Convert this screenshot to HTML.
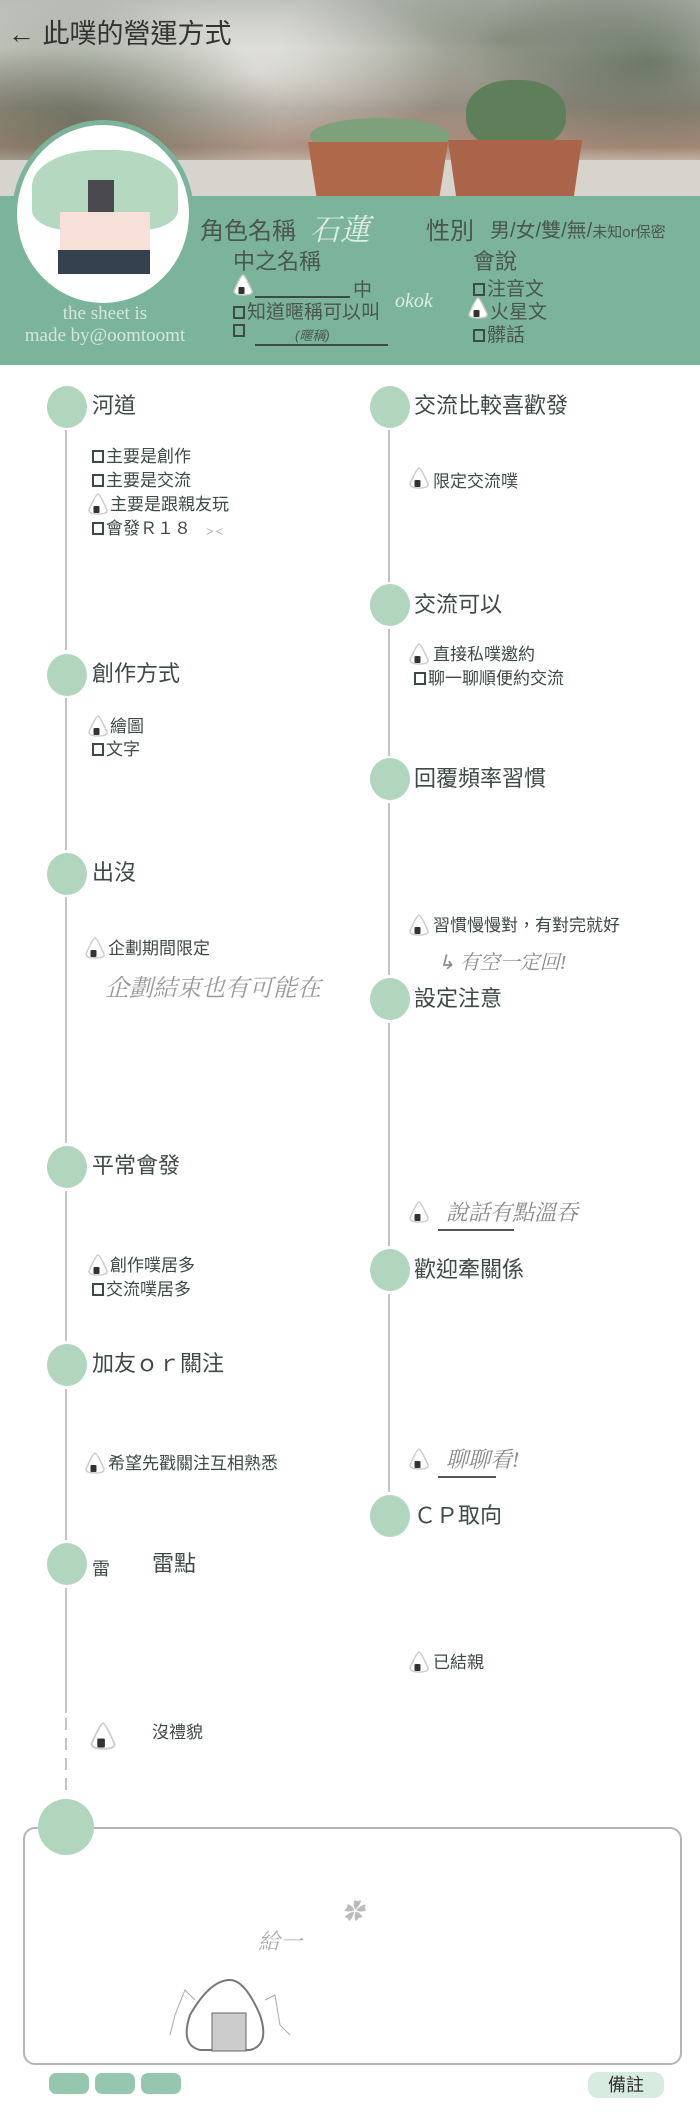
<!DOCTYPE html>
<html><head><meta charset="utf-8">
<style>
*{margin:0;padding:0;box-sizing:border-box}
body{width:700px;height:2125px;position:relative;background:#fff;overflow:hidden;font-family:"Liberation Sans","Noto Sans CJK TC",sans-serif;color:#3e4a45}
.a{position:absolute;white-space:nowrap}
.c{position:absolute;width:40px;height:42px;border-radius:50%;background:#b2d5bd}
.h{position:absolute;font-size:22px;line-height:26px;color:#3e4a45;white-space:nowrap}
.i{position:absolute;font-size:17px;line-height:22px;color:#3e4a45;white-space:nowrap}
.cb{display:inline-block;width:12px;height:13px;border:2px solid #3e4a45;margin-right:2px;vertical-align:-1px}
.vl{position:absolute;width:2px;background:#c4c4c4}
.hw{position:absolute;font-family:"Liberation Serif","Noto Serif CJK SC",serif;color:#777;font-style:italic;white-space:nowrap}
.g{position:absolute;font-size:19px;color:#4a5650;white-space:nowrap}
</style></head><body>
<svg width="0" height="0" style="position:absolute"><defs><symbol id="on" viewBox="0 0 22 24"><path d="M11 2 Q13 2 20 18 Q21 22 11 22 Q2 22 2 18 Q9 2 11 2Z" fill="#fff" stroke="#ccc" stroke-width="1.5"/><rect x="6.5" y="14" width="6" height="7" rx="1" fill="#333"/></symbol></defs></svg>

<!-- header photo -->
<div class="a" style="left:0;top:0;width:700px;height:196px;background:linear-gradient(180deg,#b8bcb6 0%,#cfd0c8 25%,#9a8f83 55%,#a88a78 75%,#d6d2cc 88%,#e0ddd8 100%)"></div>
<div class="a" style="left:0;top:0;width:700px;height:196px;background:radial-gradient(ellipse 200px 120px at 80px 120px,rgba(70,90,70,.5),transparent),radial-gradient(ellipse 180px 100px at 650px 60px,rgba(60,80,60,.6),transparent),radial-gradient(ellipse 200px 90px at 250px 70px,rgba(235,235,230,.7),transparent),radial-gradient(ellipse 220px 80px at 500px 40px,rgba(80,90,70,.5),transparent)"></div>
<div class="a" style="left:0;top:160px;width:700px;height:36px;background:#d7d3cd"></div>
<div class="a" style="left:310px;top:118px;width:140px;height:36px;border-radius:50%;background:#7ea07a"></div>
<div class="a" style="left:466px;top:80px;width:100px;height:70px;border-radius:45%;background:#5f7f5a"></div>
<div class="a" style="left:308px;top:142px;width:140px;height:54px;background:#b0684a;clip-path:polygon(0 0,100% 0,94% 100%,6% 100%)"></div>
<div class="a" style="left:448px;top:140px;width:134px;height:56px;background:#a9644a;clip-path:polygon(0 0,100% 0,94% 100%,6% 100%)"></div>
<div class="a" style="left:8px;top:12px;font-size:27px;color:#333">← 此噗的營運方式</div>

<!-- green band -->
<div class="a" style="left:0;top:196px;width:700px;height:169px;background:#7bb49a"></div>
<div class="a" style="left:12px;top:120px;width:182px;height:188px;border-radius:50%;background:#fff;border:5px solid #7bb49a"></div>
<div class="a" style="left:32px;top:150px;width:146px;height:80px;background:#b5d8c0;border-radius:45% 45% 25% 25%"></div>
<div class="a" style="left:88px;top:180px;width:26px;height:32px;background:#4a4a4e"></div>
<div class="a" style="left:60px;top:212px;width:90px;height:40px;background:#f6e0d8"></div>
<div class="a" style="left:58px;top:250px;width:92px;height:24px;background:#35414e"></div>
<div class="a" style="left:0;top:303px;width:210px;text-align:center;font-family:'Liberation Serif',serif;font-size:19px;line-height:22px;color:#d6e6dc">the sheet is<br>made by@oomtoomt</div>
<div class="g" style="left:200px;top:211px;font-size:24px">角色名稱</div>
<div class="hw" style="left:310px;top:205px;font-size:30px;color:#dfeee4">石蓮</div>
<div class="g" style="left:426px;top:211px;font-size:24px">性別</div>
<div class="g" style="left:490px;top:214px;font-size:20px">男/女/雙/無/<span style="font-size:15px">未知or保密</span></div>
<div class="g" style="left:233px;top:244px;font-size:22px">中之名稱</div>
<div class="g" style="left:473px;top:244px;font-size:22px">會說</div>
<div class="a" style="left:232px;top:273px"><svg width="22" height="24"><use href="#on"/></svg></div>
<div class="a" style="left:255px;top:296px;width:95px;border-top:2px solid #3e4a45"></div>
<div class="g" style="left:353px;top:275px">中</div>
<div class="g" style="left:233px;top:297px"><span class="cb"></span>知道暱稱可以叫</div>
<div class="hw" style="left:395px;top:290px;font-size:20px;color:#dfeee4">okok</div>
<div class="g" style="left:233px;top:320px"><span class="cb"></span></div>
<div class="a" style="left:255px;top:344px;width:133px;border-top:2px solid #3e4a45"></div>
<div class="a" style="left:295px;top:325px;font-size:13px;color:#4a5650;font-style:italic">(暱稱)</div>
<div class="g" style="left:473px;top:274px"><span class="cb"></span>注音文</div>
<div class="a" style="left:467px;top:296px"><svg width="22" height="24"><use href="#on"/></svg></div>
<div class="g" style="left:490px;top:297px">火星文</div>
<div class="g" style="left:473px;top:320px"><span class="cb"></span>髒話</div>

<!-- lines -->
<div class="vl" style="left:65px;top:430px;height:220px"></div>
<div class="vl" style="left:65px;top:698px;height:152px"></div>
<div class="vl" style="left:65px;top:897px;height:246px"></div>
<div class="vl" style="left:65px;top:1191px;height:150px"></div>
<div class="vl" style="left:65px;top:1389px;height:151px"></div>
<div class="vl" style="left:65px;top:1588px;height:125px"></div>
<div class="vl" style="left:65px;top:1718px;height:80px;background:repeating-linear-gradient(180deg,#c4c4c4 0 12px,transparent 12px 20px)"></div>
<div class="vl" style="left:388px;top:430px;height:152px"></div>
<div class="vl" style="left:388px;top:629px;height:127px"></div>
<div class="vl" style="left:388px;top:803px;height:172px"></div>
<div class="vl" style="left:388px;top:1023px;height:223px"></div>
<div class="vl" style="left:388px;top:1294px;height:198px"></div>

<!-- left column -->
<div class="c" style="left:47px;top:386px"></div><div class="h" style="left:92px;top:393px">河道</div>
<div class="i" style="left:92px;top:446px"><span class="cb"></span>主要是創作</div>
<div class="i" style="left:92px;top:470px"><span class="cb"></span>主要是交流</div>
<div class="a" style="left:87px;top:492px"><svg width="22" height="24"><use href="#on"/></svg></div>
<div class="i" style="left:110px;top:494px">主要是跟親友玩</div>
<div class="i" style="left:92px;top:518px"><span class="cb"></span>會發Ｒ１８</div>
<div class="hw" style="left:205px;top:525px;font-size:14px;color:#999">&gt;&lt;</div>

<div class="c" style="left:47px;top:654px"></div><div class="h" style="left:92px;top:661px">創作方式</div>
<div class="a" style="left:87px;top:714px"><svg width="22" height="24"><use href="#on"/></svg></div>
<div class="i" style="left:110px;top:716px">繪圖</div>
<div class="i" style="left:92px;top:739px"><span class="cb"></span>文字</div>

<div class="c" style="left:47px;top:853px"></div><div class="h" style="left:92px;top:860px">出沒</div>
<div class="a" style="left:84px;top:936px"><svg width="22" height="24"><use href="#on"/></svg></div>
<div class="i" style="left:108px;top:938px">企劃期間限定</div>
<div class="hw" style="left:105px;top:968px;font-size:24px;color:#999">企劃結束也有可能在</div>

<div class="c" style="left:47px;top:1146px"></div><div class="h" style="left:92px;top:1153px">平常會發</div>
<div class="a" style="left:87px;top:1253px"><svg width="22" height="24"><use href="#on"/></svg></div>
<div class="i" style="left:110px;top:1255px">創作噗居多</div>
<div class="i" style="left:92px;top:1279px"><span class="cb"></span>交流噗居多</div>

<div class="c" style="left:47px;top:1344px"></div><div class="h" style="left:92px;top:1351px">加友ｏｒ關注</div>
<div class="a" style="left:84px;top:1451px"><svg width="22" height="24"><use href="#on"/></svg></div>
<div class="i" style="left:108px;top:1453px">希望先戳關注互相熟悉</div>

<div class="c" style="left:47px;top:1543px"></div><div class="a" style="left:92px;top:1555px;font-size:18px">雷</div><div class="h" style="left:152px;top:1551px">雷點</div>
<div class="a" style="left:89px;top:1720px"><svg width="28" height="32" viewBox="0 0 22 24"><use href="#on"/></svg></div>
<div class="i" style="left:152px;top:1722px">沒禮貌</div>

<!-- right column -->
<div class="c" style="left:370px;top:386px"></div><div class="h" style="left:414px;top:393px">交流比較喜歡發</div>
<div class="a" style="left:408px;top:466px"><svg width="22" height="24"><use href="#on"/></svg></div>
<div class="i" style="left:433px;top:471px">限定交流噗</div>

<div class="c" style="left:370px;top:584px"></div><div class="h" style="left:414px;top:592px">交流可以</div>
<div class="a" style="left:408px;top:642px"><svg width="22" height="24"><use href="#on"/></svg></div>
<div class="i" style="left:433px;top:644px">直接私噗邀約</div>
<div class="i" style="left:414px;top:668px"><span class="cb"></span>聊一聊順便約交流</div>

<div class="c" style="left:370px;top:758px"></div><div class="h" style="left:414px;top:766px">回覆頻率習慣</div>
<div class="a" style="left:408px;top:913px"><svg width="22" height="24"><use href="#on"/></svg></div>
<div class="i" style="left:433px;top:915px">習慣慢慢對，有對完就好</div>
<div class="hw" style="left:438px;top:946px;font-size:20px;color:#888">↳ 有空一定回!</div>

<div class="c" style="left:370px;top:978px"></div><div class="h" style="left:414px;top:986px">設定注意</div>
<div class="a" style="left:408px;top:1200px"><svg width="22" height="24"><use href="#on"/></svg></div>
<div class="hw" style="left:446px;top:1196px;font-size:22px;color:#888">說話有點溫吞</div>
<div class="a" style="left:438px;top:1229px;width:76px;border-top:2px solid #555"></div>

<div class="c" style="left:370px;top:1249px"></div><div class="h" style="left:414px;top:1257px">歡迎牽關係</div>
<div class="a" style="left:408px;top:1447px"><svg width="22" height="24"><use href="#on"/></svg></div>
<div class="hw" style="left:446px;top:1443px;font-size:22px;color:#888">聊聊看!</div>
<div class="a" style="left:438px;top:1476px;width:58px;border-top:2px solid #555"></div>

<div class="c" style="left:370px;top:1495px"></div><div class="h" style="left:414px;top:1503px">ＣＰ取向</div>
<div class="a" style="left:408px;top:1650px"><svg width="22" height="24"><use href="#on"/></svg></div>
<div class="i" style="left:433px;top:1652px">已結親</div>

<!-- bottom box -->
<div class="a" style="left:23px;top:1827px;width:659px;height:238px;border:2px solid #b5b5b5;border-radius:12px"></div>
<div class="c" style="left:38px;top:1799px;width:56px;height:56px"></div>
<div class="hw" style="left:258px;top:1925px;font-size:22px;color:#aaa">給一</div>
<div class="hw" style="left:342px;top:1895px;font-size:22px;color:#bbb">✿</div>
<svg class="a" style="left:150px;top:1975px" width="160" height="100"><path d="M80 5 Q95 5 110 40 Q120 70 100 75 L50 75 Q30 70 40 40 Q60 5 80 5Z" fill="none" stroke="#777" stroke-width="2"/><rect x="62" y="38" width="34" height="38" fill="#ccc" stroke="#666"/><path d="M45 25 L35 15 L25 40 L20 60 M115 25 L125 20 L130 50 L140 60" fill="none" stroke="#aaa"/></svg>
<div class="a" style="left:49px;top:2073px;width:40px;height:21px;border-radius:7px;background:#97c6ae"></div>
<div class="a" style="left:95px;top:2073px;width:40px;height:21px;border-radius:7px;background:#97c6ae"></div>
<div class="a" style="left:141px;top:2073px;width:40px;height:21px;border-radius:7px;background:#97c6ae"></div>
<div class="a" style="left:588px;top:2072px;width:76px;height:26px;border-radius:10px;background:#d8ebe0;text-align:center;font-size:18px;line-height:26px;color:#333">備註</div>
</body></html>
